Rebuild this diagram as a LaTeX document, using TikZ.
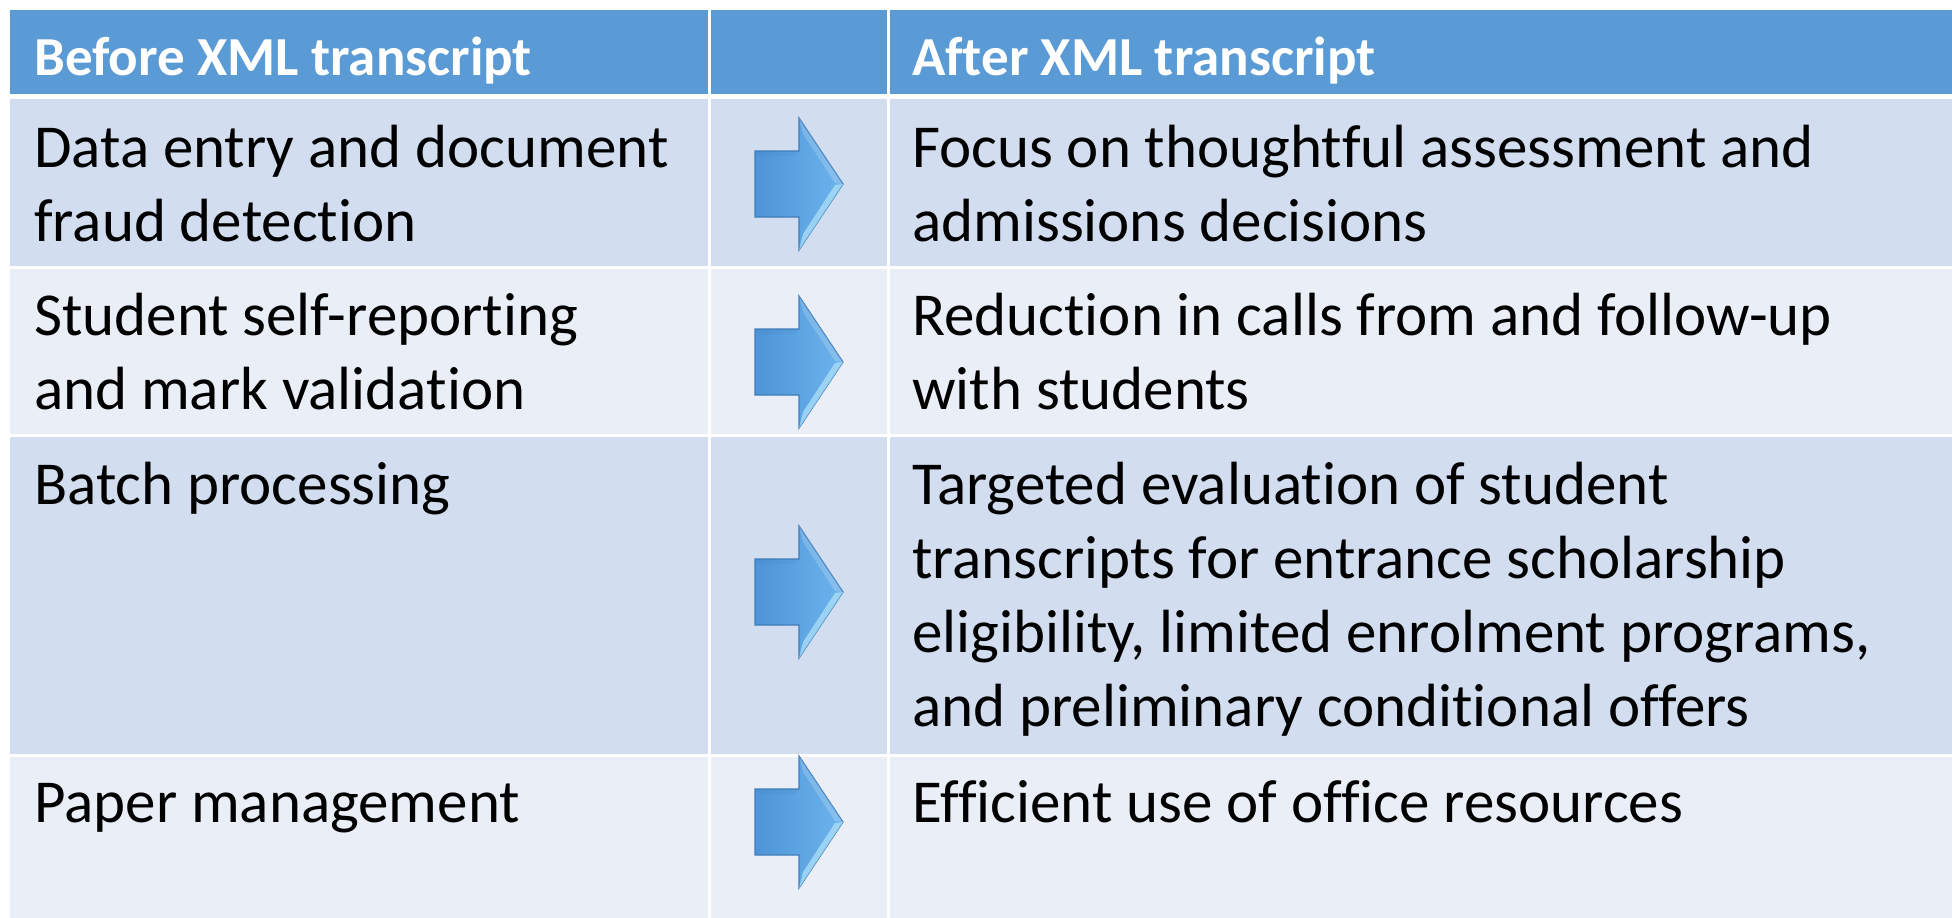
\documentclass[tikz,border=0pt]{standalone}
\usepackage{fontspec}
\setmainfont{Carlito}[Ligatures=NoCommon]
\usetikzlibrary{positioning}
\definecolor{headblue}{HTML}{5B9BD5}
\definecolor{banddark}{HTML}{D2DEEF}
\definecolor{bandlight}{HTML}{EAEFF7}
\definecolor{arrowdark}{HTML}{4E94D6}
\definecolor{arrowlight}{HTML}{6CB4EE}
\definecolor{arrowedge}{HTML}{3F7DBA}
\definecolor{arrowshine}{HTML}{A8DDF8}

% blue block arrow, #1 = x of head base, #2 = y of tip
\newcommand\blockarrow[2]{%
  \path[left color=arrowdark, right color=arrowlight, draw=arrowedge, line width=1.2]
    (#1-44,#2-33) -- (#1,#2-33) -- (#1,#2-66) -- (#1+44,#2)
    -- (#1,#2+66) -- (#1,#2+33) -- (#1-44,#2+33) -- cycle;
  \fill[arrowshine, opacity=.8] (#1+44,#2) -- (#1,#2+66) -- (#1+4,#2+50) -- (#1+36,#2+1) -- cycle;
  \fill[white, opacity=.18] (#1+44,#2) -- (#1,#2-66) -- (#1+4,#2-50) -- (#1+36,#2-1) -- cycle;
  \fill[arrowedge, opacity=.15] (#1-44,#2-33) -- (#1,#2-33) -- (#1-4,#2-28) -- (#1-39,#2-28) -- cycle;
}

\begin{document}
\begin{tikzpicture}[x=1pt,y=-1pt,
  every node/.style={inner sep=0pt, anchor=base west, align=left},
  headtxt/.style={text=white, font=\fontsize{55}{67}\selectfont\bfseries},
  celltxt/.style={text=black, font=\fontsize{61}{74}\selectfont}]
  \useasboundingbox[fill=white] (0,0) rectangle (1952,918);

  % bands
  \fill[headblue]  (10,10)  rectangle (1952,96);
  \fill[banddark]  (10,96)  rectangle (1952,267);
  \fill[bandlight] (10,267) rectangle (1952,435);
  \fill[banddark]  (10,435) rectangle (1952,755);
  \fill[bandlight] (10,755) rectangle (1952,918);
  % white grid
  \draw[white, line width=5] (10,96) -- (1952,96);
  \foreach \y in {267,435,755}
    \draw[white, line width=3] (10,\y) -- (1952,\y);
  \foreach \x in {709,888}
    \draw[white, line width=3] (\x,10) -- (\x,918);

  % header (anchor = baseline of last line)
  \node[headtxt] (hb) at (34,75) {Before XML transcript};
  \node[headtxt] (ha) at (912,75) {After XML transcript};

  % before
  \node[celltxt] (b1) at (34,241) {Data entry and document\\fraud detection};
  \node[celltxt] (b2) at (34,409) {Student self-reporting\\and mark validation};
  \node[celltxt] (b3) at (34,504) {Batch processing};
  \node[celltxt] (b4) at (34,822) {Paper management};

  % after
  \node[celltxt] (a1) at (912,241) {Focus on thoughtful assessment and\\admissions decisions};
  \node[celltxt] (a2) at (912,409) {Reduction in calls from and follow-up\\with students};
  \node[celltxt] (a3) at (912,726) {Targeted evaluation of student\\transcripts for entrance scholarship\\eligibility, limited enrolment programs,\\and preliminary conditional offers};
  \node[celltxt] (a4) at (912,822) {Efficient use of office resources};

  % arrows
  \blockarrow{799}{184}
  \blockarrow{799}{362}
  \blockarrow{799}{592}
  \blockarrow{799}{822}
\end{tikzpicture}
\end{document}
